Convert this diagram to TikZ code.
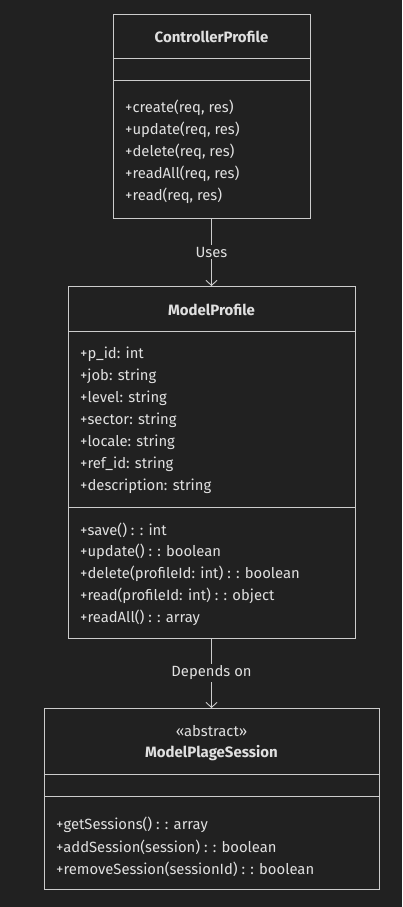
\documentclass[tikz,border=0pt]{standalone}
\usepackage{fontspec}
\setmainfont{Fira Sans}
\usetikzlibrary{arrows.meta}
\definecolor{bg}{HTML}{212121}
\definecolor{ln}{HTML}{CCCCCC}
\definecolor{tx}{HTML}{E0E0E0}
\tikzset{
  classbox/.style={draw=ln, line width=0.9pt, fill=bg, inner sep=0pt, outer sep=0pt},
  sep/.style={draw=ln, line width=0.9pt},
  member/.style={anchor=west, text=tx, font=\fontsize{14.8}{16}\selectfont, inner sep=0pt},
  ctitle/.style={text=tx, font=\bfseries\fontsize{15}{16}\selectfont, inner sep=0pt},
  stereo/.style={text=tx, font=\fontsize{14.8}{16}\selectfont, inner sep=0pt},
  rel/.style={draw=ln, line width=0.8pt, -{Straight Barb[length=5pt,width=11pt,line width=0.9pt]}},
  rellabel/.style={fill=bg, text=tx, font=\fontsize{14.8}{16}\selectfont, inner sep=2pt},
}
\begin{document}
\begin{tikzpicture}[x=1pt,y=-1pt]
\fill[bg] (0,0) rectangle (402,907);
\useasboundingbox (0,0) rectangle (402,907);

% ControllerProfile
\node[classbox, minimum width=197pt, minimum height=204pt] (c1) at (211.5,116) {};
\draw[sep] (113,58) -- (310,58);
\draw[sep] (113,80) -- (310,80);
\node[ctitle] (c1t) at (211.5,36.5) {ControllerProfile};
\node[member] (c1m1) at (125,108) {+create(req, res)};
\node[member] (c1m2) at (125,130) {+update(req, res)};
\node[member] (c1m3) at (125,152) {+delete(req, res)};
\node[member] (c1m4) at (125,174) {+readAll(req, res)};
\node[member] (c1m5) at (125,196) {+read(req, res)};

% ModelProfile
\node[classbox, minimum width=287pt, minimum height=352pt] (c2) at (211.5,462) {};
\draw[sep] (68,331) -- (355,331);
\draw[sep] (68,507) -- (355,507);
\node[ctitle] (c2t) at (211.5,309.5) {ModelProfile};
\node[member] (c2a1) at (80,354) {+p\_id: int};
\node[member] (c2a2) at (80,376) {+job: string};
\node[member] (c2a3) at (80,398) {+level: string};
\node[member] (c2a4) at (80,420) {+sector: string};
\node[member] (c2a5) at (80,442) {+locale: string};
\node[member] (c2a6) at (80,464) {+ref\_id: string};
\node[member] (c2a7) at (80,486) {+description: string};
\node[member] (c2m1) at (80,530) {+save() : : int};
\node[member] (c2m2) at (80,552) {+update() : : boolean};
\node[member] (c2m3) at (80,574) {+delete(profileId: int) : : boolean};
\node[member] (c2m4) at (80,596) {+read(profileId: int) : : object};
\node[member] (c2m5) at (80,618) {+readAll() : : array};

% ModelPlageSession
\node[classbox, minimum width=335pt, minimum height=181pt] (c3) at (211.5,798.5) {};
\draw[sep] (44,774) -- (379,774);
\draw[sep] (44,796) -- (379,796);
\node[stereo] (c3s) at (211.5,731) {«abstract»};
\node[ctitle] (c3t) at (211.5,753) {ModelPlageSession};
\node[member] (c3m1) at (56,825) {+getSessions() : : array};
\node[member] (c3m2) at (56,847) {+addSession(session) : : boolean};
\node[member] (c3m3) at (56,869) {+removeSession(sessionId) : : boolean};

% relations
\draw[rel] (c1.south) -- node[rellabel] (l1) {Uses} (c2.north);
\draw[rel] (c2.south) -- node[rellabel] (l2) {Depends on} (c3.north);
\end{tikzpicture}
\end{document}
